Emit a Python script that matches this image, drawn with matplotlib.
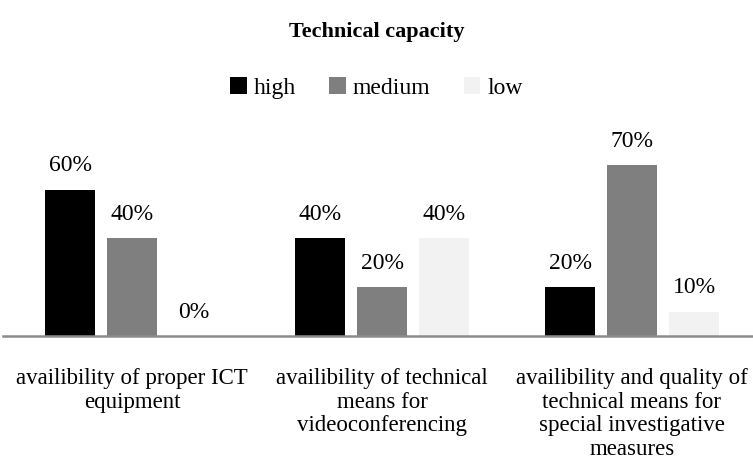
import matplotlib.pyplot as plt
import numpy as np

categories = ['availibility of proper ICT\nequipment',
              'availibility of technical\nmeans for\nvideoconferencing',
              'availibility and quality of\ntechnical means for\nspecial investigative\nmeasures']
series = ['high', 'medium', 'low']
values = {
    'high': [0.60, 0.40, 0.20],
    'medium': [0.40, 0.20, 0.70],
    'low': [0.00, 0.40, 0.10],
}
colors = {'high': '#000000', 'medium': '#7f7f7f', 'low': '#f2f2f2'}

plt.rcParams['font.family'] = ['Liberation Serif', 'DejaVu Serif']

fig = plt.figure(figsize=(7.53, 4.70), dpi=100)
# axes: x 3..753 px, y baseline at 336 px, top at ~140 px
ax = fig.add_axes([3 / 753, (470 - 336) / 470, 750 / 753, (336 - 140.8) / 470])

x = np.arange(len(categories))
w = 0.2
step = 0.248
for i, s in enumerate(series):
    pos = x + (i - 1) * step
    bars = ax.bar(pos, values[s], width=w, color=colors[s], label=s)
    for p, v in zip(pos, values[s]):
        ax.text(p, v + 0.055, f'{v * 100:.0f}%', ha='center', va='bottom', fontsize=17)

ax.set_xlim(-0.516, 2.484)
ax.set_ylim(0, 0.8)
ax.set_yticks([])
ax.set_xticks(x)
ax.set_xticklabels(categories, fontsize=16.5, linespacing=1.17)
ax.tick_params(axis='x', length=0, pad=23)
for side in ['top', 'right', 'left']:
    ax.spines[side].set_visible(False)
ax.spines['bottom'].set_color('#8c8c8c')
ax.spines['bottom'].set_linewidth(1.8)
ax.patch.set_visible(False)

fig.text(0.5, 1 - 32 / 470, 'Technical capacity', ha='center', va='center',
         fontsize=16, fontweight='bold')
fig.legend(loc='center', bbox_to_anchor=(0.5, 1 - 88 / 470), ncol=3, frameon=False,
           fontsize=17, handlelength=0.7, handleheight=0.7, handletextpad=0.3,
           columnspacing=1.4)

fig.savefig('out.png', dpi=100)
